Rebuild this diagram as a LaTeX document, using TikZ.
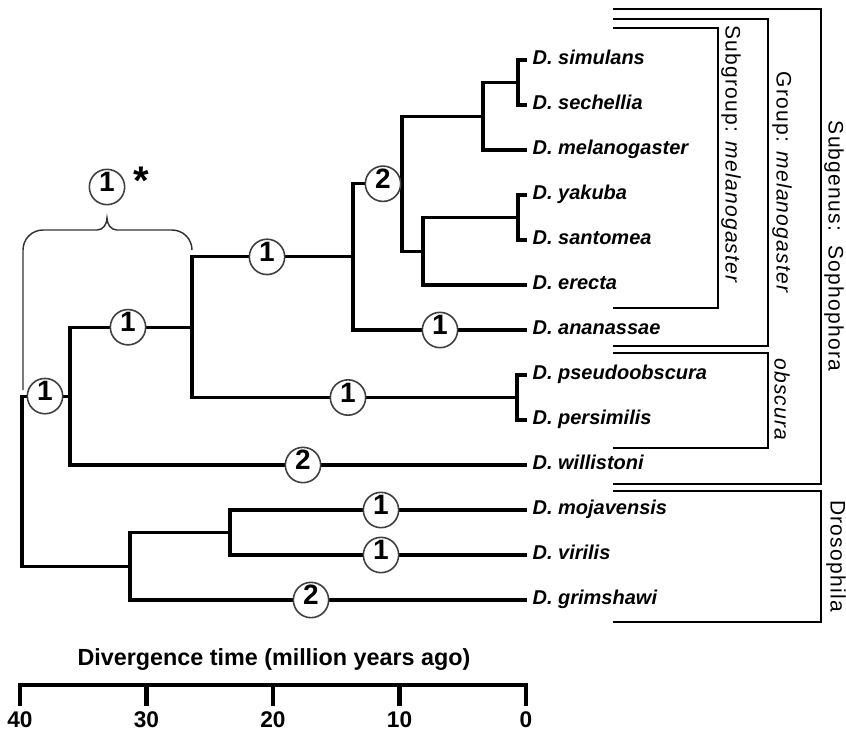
\documentclass[tikz,border=0pt]{standalone}
\usepackage{fontspec}
\setmainfont{Liberation Sans}
\newfontfamily\brfont[LetterSpace=6]{Liberation Sans}
\usetikzlibrary{calc}
\begin{document}
\begin{tikzpicture}[x=0.75pt,y=-0.75pt,
  branch/.style={line width=2.4pt},
  brk/.style={line width=1.1pt},
  leaf/.style={anchor=west,inner xsep=4pt,inner ysep=0pt,text height=0.72em,text depth=0pt,font=\fontsize{15pt}{16pt}\selectfont\bfseries\itshape},
  cnum/.style={circle,draw=black!75,line width=1.2pt,fill=white,minimum size=26.5pt,inner sep=0pt,text height=0.72em,text depth=0pt,font=\fontsize{21pt}{22pt}\selectfont\bfseries},
  grp/.style={rotate=-90,font=\fontsize{15.75pt}{17pt}\selectfont\brfont},
  tick/.style={font=\fontsize{17pt}{18pt}\selectfont\bfseries}
]
\useasboundingbox (0,0) rectangle (846,733);
% leaves
\node[leaf] (sim) at (527,60) {D. simulans};
\node[leaf] (sec) at (527,105) {D. sechellia};
\node[leaf] (mel) at (527,150) {D. melanogaster};
\node[leaf] (yak) at (527,195) {D. yakuba};
\node[leaf] (san) at (527,240) {D. santomea};
\node[leaf] (ere) at (527,285) {D. erecta};
\node[leaf] (ana) at (527,330) {D. ananassae};
\node[leaf] (pse) at (527,375) {D. pseudoobscura};
\node[leaf] (per) at (527,420) {D. persimilis};
\node[leaf] (wil) at (527,465) {D. willistoni};
\node[leaf] (moj) at (527,510) {D. mojavensis};
\node[leaf] (vir) at (527,555) {D. virilis};
\node[leaf] (gri) at (527,600) {D. grimshawi};
% internal nodes
\coordinate (G) at (518,82.5);
\coordinate (F) at (483,116.25);
\coordinate (I) at (518,217.5);
\coordinate (H) at (423,251.25);
\coordinate (E) at (402,183.75);
\coordinate (D) at (353,256.875);
\coordinate (J) at (517,397.5);
\coordinate (C) at (192,327.19);
\coordinate (B) at (70,396.09);
\coordinate (L) at (230,532.5);
\coordinate (K) at (130,566.25);
\coordinate (A) at (22,481.17);
% branches
\draw[branch] (G) |- (sim.west);
\draw[branch] (G) |- (sec.west);
\draw[branch] (F) |- (G);
\draw[branch] (F) |- (mel.west);
\draw[branch] (I) |- (yak.west);
\draw[branch] (I) |- (san.west);
\draw[branch] (H) |- (I);
\draw[branch] (H) |- (ere.west);
\draw[branch] (E) |- (F);
\draw[branch] (E) |- (H);
\draw[branch] (D) |- (E);
\draw[branch] (D) |- (ana.west);
\draw[branch] (J) |- (pse.west);
\draw[branch] (J) |- (per.west);
\draw[branch] (C) |- (D);
\draw[branch] (C) |- (J);
\draw[branch] (B) |- (C);
\draw[branch] (B) |- (wil.west);
\draw[branch] (L) |- (moj.west);
\draw[branch] (L) |- (vir.west);
\draw[branch] (K) |- (L);
\draw[branch] (K) |- (gri.west);
\draw[branch] (A) |- (B);
\draw[branch] (A) |- (K);
% brace
\coordinate (bl) at (23,390);
\coordinate (br) at (192,250);
\coordinate (btip) at (107,218);
\draw[brk,draw=black!80] (bl) -- (23,250) to[out=90,in=180] (43,230) -- (97,230) to[out=0,in=-90] (btip) to[out=-90,in=180] (117,230) -- (172,230) to[out=0,in=90] (br);
% circles
\node[cnum] (cAB) at (45,396.09) {1};
\node[cnum] (cBC) at (128,327.19) {1};
\node[cnum] (cCD) at (267,256.875) {1};
\node[cnum] (cDE) at (383,183.75) {2};
\node[cnum] (cana) at (440,330) {1};
\node[cnum] (cCJ) at (348,397.5) {1};
\node[cnum] (cwil) at (303,465) {2};
\node[cnum] (cmoj) at (381,510) {1};
\node[cnum] (cvir) at (381,555) {1};
\node[cnum] (cgri) at (311,600) {2};
\node[cnum] (cbr) at (107,187) {1};
\node[font=\fontsize{30pt}{30pt}\selectfont\bfseries,inner sep=0pt] (ast) at (141,181) {*};
% right brackets
\draw[brk] (613,28) -| (718,308) -- (613,308);
\draw[brk] (613,19) -| (768,346) -- (613,346);
\draw[brk] (613,9) -| (821,484) -- (613,484);
\draw[brk] (613,353) -| (768,448) -- (613,448);
\draw[brk] (613,491) -| (821,622) -- (613,622);
\node[grp] (lsub) at (731,155) {Subgroup: \textit{melanogaster}};
\node[grp] (lgrp) at (782,183) {Group: \textit{melanogaster}};
\node[grp] (lsg) at (834,246) {Subgenus:\ \ Sophophora};
\node[grp] (lobs) at (782,400) {\textit{obscura}};
\node[grp] (ldro) at (836,556) {Drosophila};
% axis
\node[font=\fontsize{17.5pt}{19pt}\selectfont\bfseries] (title) at (274,660) {Divergence time (million years ago)};
\coordinate (ax0) at (20,685);
\coordinate (ax4) at (526,685);
\draw[line width=3.6pt,line cap=rect] (ax0) -- (ax4);
\foreach \x/\l in {20/40,146.5/30,273/20,399.5/10,526/0}{
  \draw[line width=3.6pt] (\x,685) -- (\x,706);
  \node[tick] at (\x,720) {\l};
}
\end{tikzpicture}
\end{document}
